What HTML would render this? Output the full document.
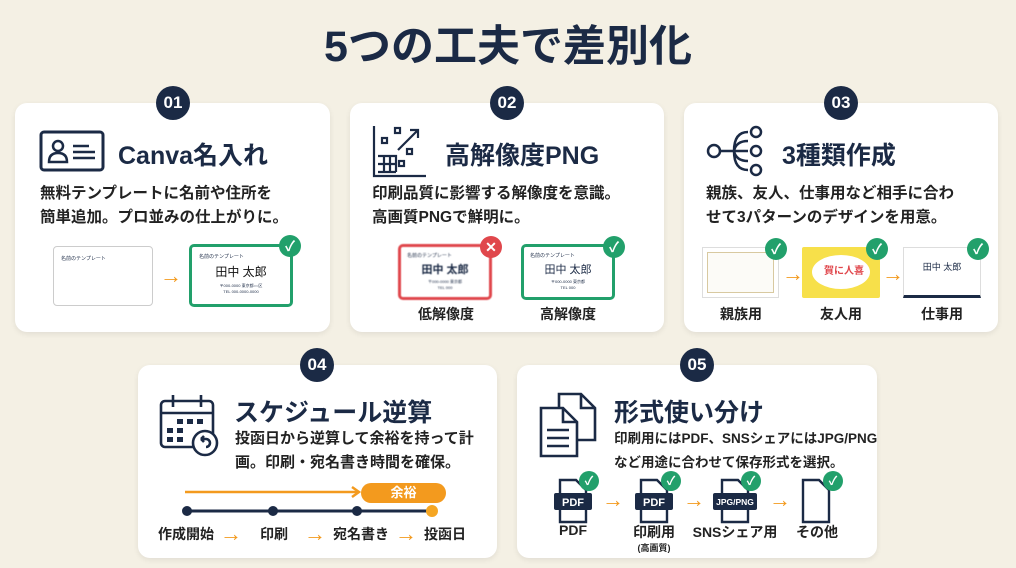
<!DOCTYPE html>
<html><head><meta charset="utf-8"><style>
*{margin:0;padding:0;box-sizing:border-box}
body{width:1016px;height:568px;background:#f4f0e4;font-family:"Liberation Sans","Noto Sans CJK JP",sans-serif;color:#1b2a45;position:relative;overflow:hidden}
.a{position:absolute}
.card{position:absolute;background:#fff;border-radius:12px;box-shadow:0 2px 6px rgba(0,0,0,.08)}
.badge{position:absolute;width:34px;height:34px;border-radius:50%;background:#1b2a45;color:#fff;font-weight:bold;font-size:17px;text-align:center;line-height:34px}
.t{position:absolute;font-weight:bold;font-size:25px;color:#1b2a45;white-space:nowrap}
.p{position:absolute;font-weight:bold;font-size:15.5px;line-height:24px;color:#222;white-space:nowrap}
.lb{position:absolute;font-weight:bold;font-size:14px;color:#222;white-space:nowrap;transform:translateX(-50%)}
.ck{position:absolute;width:22px;height:22px;border-radius:50%;background:#22a06b;color:#fff;font-size:14px;font-weight:bold;text-align:center;line-height:22px}
.arr{position:absolute;color:#f39a1e;font-weight:900;font-size:22px;line-height:22px}
</style></head><body>
<div class="a" style="left:0;width:1016px;top:12px;text-align:center;font-size:43px;font-weight:bold;color:#1b2a45">5つの工夫で差別化</div>

<!-- card1 -->
<div class="card" style="left:15px;top:103px;width:315px;height:229px"></div>
<div class="badge" style="left:156px;top:86px">01</div>
<svg class="a" style="left:39px;top:130px" width="66" height="42"><rect x="2" y="2" width="62" height="38" rx="3" fill="none" stroke="#1b2a45" stroke-width="3"/><circle cx="19" cy="16" r="5" fill="none" stroke="#1b2a45" stroke-width="2.5"/><path d="M10 32 Q10 23 19 23 Q28 23 28 32 Z" fill="none" stroke="#1b2a45" stroke-width="2.5"/><path d="M34 16h16M34 22h22M34 28h22" stroke="#1b2a45" stroke-width="2.5"/></svg>
<div class="t" style="left:118px;top:136px">Canva名入れ</div>
<div class="p" style="left:40px;top:182px">無料テンプレートに名前や住所を<br>簡単追加。プロ並みの仕上がりに。</div>
<div class="a" style="left:53px;top:246px;width:100px;height:60px;border:1px solid #ccc;border-radius:4px;font-size:5px;padding:8px 7px">名前のテンプレート</div>
<div class="arr" style="left:160px;top:265px">→</div>
<div class="a" style="left:189px;top:244px;width:104px;height:63px;border:3px solid #22a06b;border-radius:5px;font-size:5px;padding:6px 7px;text-align:left">名前のテンプレート<div style="text-align:center;font-size:12px;margin-top:3px;color:#111">田中 太郎</div><div style="text-align:center;font-size:4px;margin-top:3px">〒000-0000 東京都○○区<br>TEL 000-0000-0000</div></div>
<div class="ck" style="left:279px;top:235px">✓</div>

<!-- card2 -->
<div class="card" style="left:350px;top:103px;width:314px;height:229px"></div>
<div class="badge" style="left:490px;top:86px">02</div>
<svg class="a" style="left:372px;top:124px" width="56" height="54" fill="none" stroke="#1b2a45" stroke-width="2.2"><path d="M2 2v50h52"/><path d="M6 32h18v16M6 40h18M12 32v16M18 32v16M6 48h18"/><rect x="10" y="14" width="5" height="5"/><rect x="23" y="4" width="5" height="5"/><rect x="35" y="25" width="5" height="5"/><rect x="27" y="37" width="5" height="5"/><path d="M26 26L46 6M38 6h8v8"/></svg>
<div class="t" style="left:445px;top:136px">高解像度PNG</div>
<div class="p" style="left:372px;top:182px">印刷品質に影響する解像度を意識。<br>高画質PNGで鮮明に。</div>
<div class="a" style="left:398px;top:244px;width:94px;height:56px;border:3px solid #e0474c;border-radius:5px;font-size:5px;padding:5px 6px;filter:blur(.6px)">名前のテンプレート<div style="text-align:center;font-size:11px;font-weight:bold;margin-top:2px">田中 太郎</div><div style="text-align:center;font-size:4px;margin-top:2px">〒000-0000 東京都<br>TEL 000</div></div>
<div class="ck" style="left:480px;top:236px;background:#e0474c">✕</div>
<div class="lb" style="left:446px;top:304px">低解像度</div>
<div class="a" style="left:521px;top:244px;width:94px;height:56px;border:3px solid #22a06b;border-radius:5px;font-size:5px;padding:5px 6px">名前のテンプレート<div style="text-align:center;font-size:11px;margin-top:2px">田中 太郎</div><div style="text-align:center;font-size:4px;margin-top:2px">〒000-0000 東京都<br>TEL 000</div></div>
<div class="ck" style="left:603px;top:236px">✓</div>
<div class="lb" style="left:568px;top:304px">高解像度</div>

<!-- card3 -->
<div class="card" style="left:684px;top:103px;width:314px;height:229px"></div>
<div class="badge" style="left:824px;top:86px">03</div>
<svg class="a" style="left:706px;top:124px" width="62" height="54" fill="none" stroke="#1b2a45" stroke-width="2.5"><circle cx="8" cy="27" r="6"/><path d="M14 27h14M28 27Q28 8 42 8M28 27Q28 46 42 46M28 27h14M28 27Q30 17 42 17M28 27Q30 37 42 37"/><circle cx="50" cy="8" r="5"/><circle cx="50" cy="27" r="5"/><circle cx="50" cy="46" r="5"/></svg>
<div class="t" style="left:782px;top:136px">3種類作成</div>
<div class="p" style="left:706px;top:182px">親族、友人、仕事用など相手に合わ<br>せて3パターンのデザインを用意。</div>
<div class="a" style="left:702px;top:247px;width:77px;height:51px;border:1px solid #ddd;background:#fcfbf7;box-shadow:inset 0 0 0 4px #fff,inset 0 0 0 5px #d8c9a0"></div>
<div class="ck" style="left:765px;top:238px">✓</div>
<div class="arr" style="left:782px;top:263px">→</div>
<div class="a" style="left:802px;top:247px;width:78px;height:51px;background:#f7e04a;border-radius:2px"><div style="position:absolute;left:10px;top:8px;width:58px;height:34px;background:#fff;border-radius:50%"></div><div style="position:absolute;left:22px;top:15px;font-size:10px;color:#e0474c;font-weight:bold">賀に人喜</div></div>
<div class="ck" style="left:866px;top:238px">✓</div>
<div class="arr" style="left:882px;top:263px">→</div>
<div class="a" style="left:903px;top:247px;width:78px;height:51px;border:1px solid #ddd;border-bottom:3px solid #1b2a45;font-size:4px;padding:6px"><div style="font-size:9px;text-align:center;margin-top:6px">田中 太郎</div></div>
<div class="ck" style="left:967px;top:238px">✓</div>
<div class="lb" style="left:741px;top:304px">親族用</div>
<div class="lb" style="left:841px;top:304px">友人用</div>
<div class="lb" style="left:942px;top:304px">仕事用</div>

<!-- card4 -->
<div class="card" style="left:138px;top:365px;width:359px;height:193px"></div>
<div class="badge" style="left:300px;top:348px">04</div>
<svg class="a" style="left:159px;top:393px" width="62" height="64" fill="none" stroke="#1b2a45" stroke-width="2.6"><rect x="2" y="8" width="52" height="46" rx="4"/><path d="M2 20h52M14 2v12M42 2v12"/><g fill="#1b2a45" stroke="none"><rect x="18" y="26" width="6" height="5"/><rect x="28" y="26" width="6" height="5"/><rect x="38" y="26" width="6" height="5"/><rect x="8" y="35" width="6" height="5"/><rect x="18" y="35" width="6" height="5"/><rect x="8" y="44" width="6" height="5"/><rect x="18" y="44" width="6" height="5"/></g><circle cx="46" cy="50" r="12" fill="#fff"/><path d="M42 46h5a4 4 0 0 1 0 8M42 46l3-3M42 46l3 3"/></svg>
<div class="t" style="left:234px;top:393px">スケジュール逆算</div>
<div class="p" style="left:235px;top:427px;font-size:15px">投函日から逆算して余裕を持って計<br>画。印刷・宛名書き時間を確保。</div>
<svg class="a" style="left:180px;top:480px" width="270" height="40"><path d="M5 12H178" stroke="#f39a1e" stroke-width="2.5"/><path d="M172 7l7 5-7 5" fill="none" stroke="#f39a1e" stroke-width="2.5"/><path d="M7 31H252" stroke="#1b2a45" stroke-width="3"/><circle cx="7" cy="31" r="5" fill="#1b2a45"/><circle cx="93" cy="31" r="5" fill="#1b2a45"/><circle cx="177" cy="31" r="5" fill="#1b2a45"/><circle cx="252" cy="31" r="6" fill="#f5a623"/></svg>
<div class="a" style="left:361px;top:483px;width:85px;height:20px;border-radius:10px;background:#f39a1e;color:#fff;font-weight:bold;font-size:13px;text-align:center;line-height:20px">余裕</div>
<div class="p" style="left:158px;top:522px;font-size:14px">作成開始</div>
<div class="arr" style="left:220px;top:523px">→</div>
<div class="p" style="left:260px;top:522px;font-size:14px">印刷</div>
<div class="arr" style="left:304px;top:523px">→</div>
<div class="p" style="left:333px;top:522px;font-size:14px">宛名書き</div>
<div class="arr" style="left:395px;top:523px">→</div>
<div class="p" style="left:424px;top:522px;font-size:14px">投函日</div>

<!-- card5 -->
<div class="card" style="left:517px;top:365px;width:360px;height:193px"></div>
<div class="badge" style="left:680px;top:348px">05</div>
<svg class="a" style="left:539px;top:392px" width="64" height="66" fill="none" stroke="#1b2a45" stroke-width="2.6"><path d="M20 2h22l14 14v32H20z M42 2v14h14"/><path d="M2 16h22l14 14v34H2z M24 16v14h14" fill="#fff"/><path d="M8 38h22M8 46h22M8 54h22"/></svg>
<div class="t" style="left:614px;top:393px">形式使い分け</div>
<div class="p" style="left:614px;top:427px;font-size:13.5px">印刷用にはPDF、SNSシェアにはJPG/PNG<br>など用途に合わせて保存形式を選択。</div>
<svg class="a" style="left:550px;top:476px" width="300" height="50"><g fill="none" stroke="#1b2a45" stroke-width="2.4"><path d="M10 4h16l10 10v32H10z"/><path d="M91 4h16l10 10v32H91z"/><path d="M172 4h16l10 10v32H172z"/><path d="M253 4h16l10 10v32H253z"/></g><rect x="4" y="17" width="38" height="17" rx="2" fill="#1b2a45"/><rect x="85" y="17" width="38" height="17" rx="2" fill="#1b2a45"/><rect x="163" y="17" width="44" height="17" rx="2" fill="#1b2a45"/><text x="23" y="30" fill="#fff" font-size="11" font-weight="bold" text-anchor="middle" font-family="Liberation Sans">PDF</text><text x="104" y="30" fill="#fff" font-size="11" font-weight="bold" text-anchor="middle" font-family="Liberation Sans">PDF</text><text x="185" y="29" fill="#fff" font-size="8.5" font-weight="bold" text-anchor="middle" font-family="Liberation Sans">JPG/PNG</text></svg>
<div class="ck" style="left:579px;top:471px;width:20px;height:20px;line-height:20px;font-size:12px">✓</div>
<div class="ck" style="left:661px;top:471px;width:20px;height:20px;line-height:20px;font-size:12px">✓</div>
<div class="ck" style="left:741px;top:471px;width:20px;height:20px;line-height:20px;font-size:12px">✓</div>
<div class="ck" style="left:823px;top:471px;width:20px;height:20px;line-height:20px;font-size:12px">✓</div>
<div class="arr" style="left:602px;top:489px">→</div>
<div class="arr" style="left:683px;top:489px">→</div>
<div class="arr" style="left:769px;top:489px">→</div>
<div class="lb" style="left:573px;top:522px">PDF</div>
<div class="lb" style="left:654px;top:522px">印刷用</div>
<div class="lb" style="left:654px;top:541px;font-size:9px">(高画質)</div>
<div class="lb" style="left:735px;top:522px">SNSシェア用</div>
<div class="lb" style="left:817px;top:522px">その他</div>
</body></html>
